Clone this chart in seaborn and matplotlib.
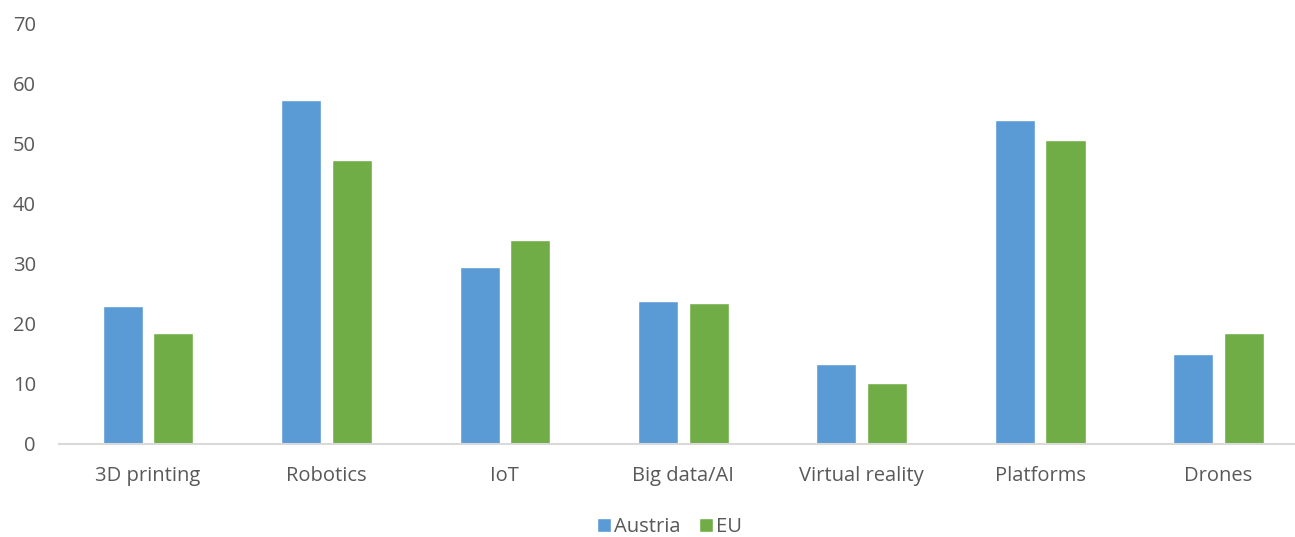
import pandas as pd
import matplotlib
matplotlib.use('Agg')
import matplotlib.pyplot as plt
import seaborn as sns

categories = ['3D printing', 'Robotics', 'IoT', 'Big data/AI', 'Virtual reality', 'Platforms', 'Drones']
austria = [23.0, 57.3, 29.5, 23.8, 13.3, 53.9, 15.0]
eu = [18.4, 47.2, 33.9, 23.4, 10.1, 50.6, 18.5]
series = ['Austria', 'EU']

df = pd.DataFrame({'category': categories * 2,
                   'value': austria + eu,
                   'series': [series[0]] * len(categories) + [series[1]] * len(categories)})

sns.set_theme(style='white')
plt.rcParams['font.family'] = ['Open Sans', 'DejaVu Sans']
text_col = '#595959'

fig = plt.figure(figsize=(12.95, 5.37), dpi=100)
# the plot area runs a little past the right edge, like the original crop
ax = fig.add_axes([0.0454, 0.174, 0.9645, 0.782])

sns.barplot(data=df, x='category', y='value', hue='series',
            palette=['#5B9BD5', '#70AD47'], width=0.568, gap=0.21,
            saturation=1, ax=ax)

ax.set_ylim(0, 70)
ax.set_yticks(range(0, 71, 10))
ax.set_xlim(-0.5, len(categories) - 0.5)
ax.set_xlabel('')
ax.set_ylabel('')
for s in ['top', 'right', 'left']:
    ax.spines[s].set_visible(False)
ax.spines['bottom'].set_color('#d9d9d9')
ax.spines['bottom'].set_linewidth(1.5)
ax.tick_params(axis='both', length=0, labelsize=14.5, colors=text_col)
ax.tick_params(axis='x', pad=16)
ax.tick_params(axis='y', pad=16.5)

ax.get_legend().remove()
handles, labels = ax.get_legend_handles_labels()
fig.legend(handles, labels, loc='center', bbox_to_anchor=(0.517, 0.018), ncol=2,
           frameon=False, fontsize=14.5, handlelength=0.7, handleheight=0.7,
           handletextpad=0.15, columnspacing=0.9, labelcolor=text_col)

fig.savefig('out.png', dpi=100)
